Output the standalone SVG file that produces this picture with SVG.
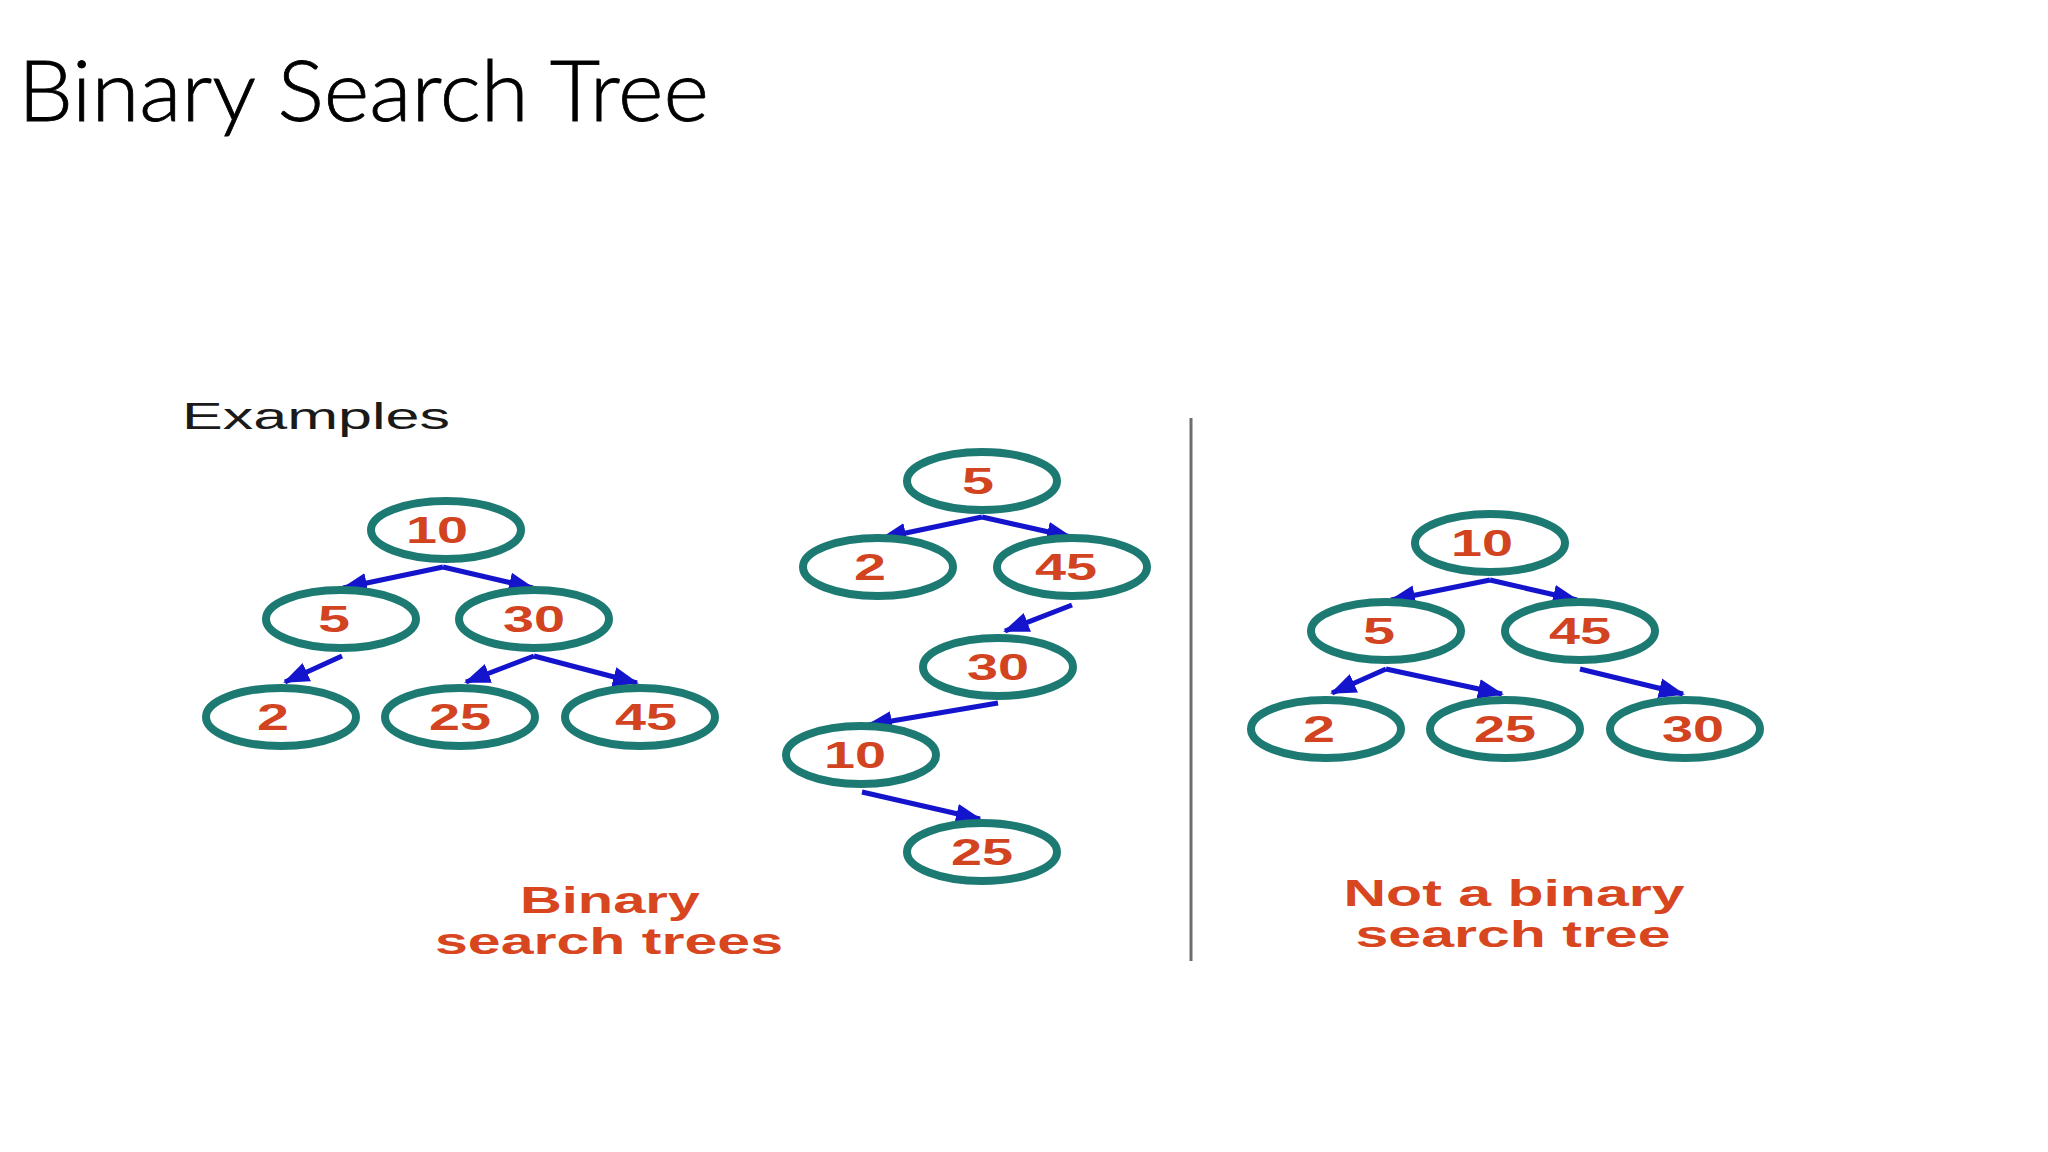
<svg xmlns="http://www.w3.org/2000/svg" width="2048" height="1152" viewBox="0 0 2048 1152">
  <defs>
    <style>
      .node ellipse { fill: #ffffff; stroke: #1c7a72; stroke-width: 8; }
      .node text { font-family: "Liberation Sans", Arial, sans-serif; font-weight: bold; font-size: 37px; fill: #d2431f; text-anchor: middle; }
      .edge { stroke: #1414cc; stroke-width: 5; fill: none; marker-end: url(#arrow); }
      .cap { font-family: "Liberation Sans", Arial, sans-serif; font-weight: bold; font-size: 37px; fill: #d8461f; text-anchor: middle; }
    </style>
    <marker id="arrow" markerUnits="userSpaceOnUse" markerWidth="26" markerHeight="22" refX="24" refY="11" orient="auto">
      <path d="M0,1 L26,11 L0,21 z" fill="#1414cc"/>
    </marker>
  </defs>
  <rect width="2048" height="1152" fill="#ffffff"/>

  <text id="title" x="18" y="121" font-family="Lato, 'Open Sans', sans-serif" font-weight="300" font-size="85" fill="#000000" stroke="#000000" stroke-width="0.8" textLength="691" lengthAdjust="spacingAndGlyphs">Binary Search Tree</text>

  <text id="examples" x="182" y="429" font-family="'Liberation Sans', Arial, sans-serif" font-size="36" fill="#1a1a1a" textLength="268" lengthAdjust="spacingAndGlyphs">Examples</text>

  <line id="divider" x1="1191" y1="418" x2="1191" y2="961" stroke="#6e6e6e" stroke-width="3"/>

  <g id="connectors">
    <!-- tree 1 -->
    <line class="edge" x1="443" y1="567" x2="343" y2="588"/>
    <line class="edge" x1="443" y1="567" x2="533" y2="588"/>
    <line class="edge" x1="342" y1="656" x2="285" y2="682"/>
    <line class="edge" x1="534" y1="656" x2="466" y2="682"/>
    <line class="edge" x1="534" y1="656" x2="637" y2="683"/>
    <!-- tree 2 -->
    <line class="edge" x1="982" y1="517" x2="882" y2="538"/>
    <line class="edge" x1="982" y1="517" x2="1071" y2="537"/>
    <line class="edge" x1="1072" y1="605" x2="1005" y2="631"/>
    <line class="edge" x1="998" y1="703" x2="868" y2="725"/>
    <line class="edge" x1="862" y1="792" x2="980" y2="819"/>
    <!-- tree 3 -->
    <line class="edge" x1="1490" y1="580" x2="1391" y2="600"/>
    <line class="edge" x1="1490" y1="580" x2="1577" y2="600"/>
    <line class="edge" x1="1386" y1="669" x2="1332" y2="693"/>
    <line class="edge" x1="1386" y1="669" x2="1502" y2="694"/>
    <line class="edge" x1="1580" y1="669" x2="1683" y2="694"/>
  </g>

  <!-- Tree 1 -->
  <g id="t1-10" class="node"><ellipse cx="446" cy="530" rx="75" ry="29"/><text x="437" y="543" textLength="62" lengthAdjust="spacingAndGlyphs">10</text></g>
  <g id="t1-5" class="node"><ellipse cx="341" cy="619" rx="75" ry="29"/><text x="334" y="632" textLength="32" lengthAdjust="spacingAndGlyphs">5</text></g>
  <g id="t1-30" class="node"><ellipse cx="534" cy="619" rx="75" ry="29"/><text x="534" y="632" textLength="62" lengthAdjust="spacingAndGlyphs">30</text></g>
  <g id="t1-2" class="node"><ellipse cx="281" cy="717" rx="75" ry="29"/><text x="273" y="730" textLength="32" lengthAdjust="spacingAndGlyphs">2</text></g>
  <g id="t1-25" class="node"><ellipse cx="460" cy="717" rx="75" ry="29"/><text x="460" y="730" textLength="62" lengthAdjust="spacingAndGlyphs">25</text></g>
  <g id="t1-45" class="node"><ellipse cx="640" cy="717" rx="75" ry="29"/><text x="646" y="730" textLength="62" lengthAdjust="spacingAndGlyphs">45</text></g>

  <!-- Tree 2 -->
  <g id="t2-5" class="node"><ellipse cx="982" cy="481" rx="75" ry="29"/><text x="978" y="494" textLength="32" lengthAdjust="spacingAndGlyphs">5</text></g>
  <g id="t2-2" class="node"><ellipse cx="878" cy="567" rx="75" ry="29"/><text x="870" y="580" textLength="32" lengthAdjust="spacingAndGlyphs">2</text></g>
  <g id="t2-45" class="node"><ellipse cx="1072" cy="567" rx="75" ry="29"/><text x="1066" y="580" textLength="62" lengthAdjust="spacingAndGlyphs">45</text></g>
  <g id="t2-30" class="node"><ellipse cx="998" cy="667" rx="75" ry="29"/><text x="998" y="680" textLength="62" lengthAdjust="spacingAndGlyphs">30</text></g>
  <g id="t2-10" class="node"><ellipse cx="861" cy="755" rx="75" ry="29"/><text x="855" y="768" textLength="62" lengthAdjust="spacingAndGlyphs">10</text></g>
  <g id="t2-25" class="node"><ellipse cx="982" cy="852" rx="75" ry="29"/><text x="982" y="865" textLength="62" lengthAdjust="spacingAndGlyphs">25</text></g>

  <!-- Tree 3 -->
  <g id="t3-10" class="node"><ellipse cx="1490" cy="543" rx="75" ry="29"/><text x="1482" y="556" textLength="62" lengthAdjust="spacingAndGlyphs">10</text></g>
  <g id="t3-5" class="node"><ellipse cx="1386" cy="631" rx="75" ry="29"/><text x="1379" y="644" textLength="32" lengthAdjust="spacingAndGlyphs">5</text></g>
  <g id="t3-45" class="node"><ellipse cx="1580" cy="631" rx="75" ry="29"/><text x="1580" y="644" textLength="62" lengthAdjust="spacingAndGlyphs">45</text></g>
  <g id="t3-2" class="node"><ellipse cx="1326" cy="729" rx="75" ry="29"/><text x="1319" y="742" textLength="32" lengthAdjust="spacingAndGlyphs">2</text></g>
  <g id="t3-25" class="node"><ellipse cx="1505" cy="729" rx="75" ry="29"/><text x="1505" y="742" textLength="62" lengthAdjust="spacingAndGlyphs">25</text></g>
  <g id="t3-30" class="node"><ellipse cx="1685" cy="729" rx="75" ry="29"/><text x="1693" y="742" textLength="62" lengthAdjust="spacingAndGlyphs">30</text></g>

  <g id="caption-bst">
    <text class="cap" x="610" y="913" textLength="180" lengthAdjust="spacingAndGlyphs">Binary</text>
    <text class="cap" x="609" y="954" textLength="348" lengthAdjust="spacingAndGlyphs">search trees</text>
  </g>
  <g id="caption-not">
    <text class="cap" x="1514" y="906" textLength="341" lengthAdjust="spacingAndGlyphs">Not a binary</text>
    <text class="cap" x="1513" y="947" textLength="315" lengthAdjust="spacingAndGlyphs">search tree</text>
  </g>
</svg>
